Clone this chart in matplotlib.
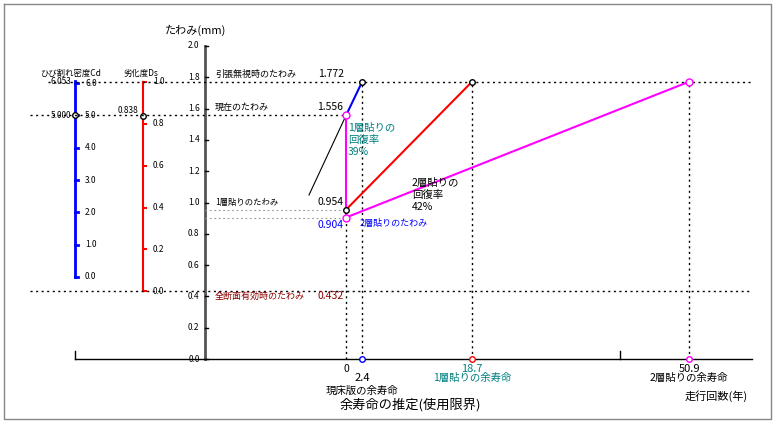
import matplotlib.pyplot as plt

plt.rcParams['font.family'] = ['Noto Sans CJK JP', 'DejaVu Sans']

# deflection values (mm)
d_tension = 1.772
d_now = 1.556
d_one = 0.954
d_two = 0.904
d_full = 0.432
# remaining life (years)
life_now = 2.4
life_one = 18.7
life_two = 50.9
cd_ticks = [0.0, 1.0, 2.0, 3.0, 4.0, 5.0, 6.0]
ds_ticks = [0.0, 0.2, 0.4, 0.6, 0.8, 1.0]
cd_now, cd_max = 5.0, 6.053
ds_now = 0.838
y_ticks = [0.0, 0.2, 0.4, 0.6, 0.8, 1.0, 1.2, 1.4, 1.6, 1.8, 2.0]

# pixel -> data helpers for layout
PX = 6.74
PY = 156.5
def xp(px): return (px - 346) / PX
def yp(py): return (359 - py) / PY

def cd2d(c): return 0.524 + c * (d_now - 0.524) / cd_now
def ds2d(s): return d_full + s * (d_tension - d_full)

fig = plt.figure(figsize=(7.76, 4.25), dpi=100)
ax = fig.add_axes([0, 0, 1, 1])
ax.set_xlim(xp(0), xp(776))
ax.set_ylim(yp(425), yp(0))
ax.axis('off')

# frame
ax.plot([xp(4), xp(771), xp(771), xp(4), xp(4)], [yp(4), yp(4), yp(419), yp(419), yp(4)], color='#888', lw=1)

x_axis = xp(205)
# main y axis
ax.plot([x_axis, x_axis], [0, 2.0], color='#555', lw=2)
for t in y_ticks:
    ax.plot([x_axis, x_axis + 0.5], [t, t], color='k', lw=1)
    ax.text(x_axis - 0.8, t, f'{t:.1f}', ha='right', va='center', fontsize=6)
ax.text(xp(165), yp(30), 'たわみ(mm)', fontsize=8, va='center')
# x axis
ax.plot([xp(75), xp(752)], [0, 0], color='k', lw=1)
for px in (75, 620):
    ax.plot([xp(px), xp(px)], [0, 0.05], color='k', lw=1)

# blue Cd scale
xb = xp(75)
ax.plot([xb, xb], [cd2d(0), cd2d(cd_max)], color='blue', lw=2)
for c in cd_ticks:
    ax.plot([xb, xb + 0.5], [cd2d(c), cd2d(c)], color='blue', lw=2)
    ax.text(xb + 1.5, cd2d(c), f'{c:.1f}', fontsize=6, va='center')
ax.text(xp(40), yp(73), 'ひび割れ密度Cd', fontsize=6, va='center')
ax.text(xb - 0.5, cd2d(cd_max), f'{cd_max:.3f}', fontsize=6, ha='right', va='center')
ax.text(xb - 0.5, cd2d(cd_now), f'{cd_now:.3f}', fontsize=6, ha='right', va='center')
ax.plot(xb, cd2d(cd_now), 'o', mfc='white', mec='k', ms=4)

# red Ds scale
xr = xp(143)
ax.plot([xr, xr], [ds2d(0), ds2d(1.0)], color='red', lw=1.5)
for s in ds_ticks:
    ax.plot([xr, xr + 0.5], [ds2d(s), ds2d(s)], color='red', lw=1.5)
    ax.text(xr + 1.5, ds2d(s), f'{s:.1f}', fontsize=6, va='center')
ax.text(xp(124), yp(73), '劣化度Ds', fontsize=6, va='center')
ax.text(xr - 0.7, ds2d(ds_now) + 0.03, f'{ds_now:.3f}', fontsize=6, ha='right', va='center')
ax.plot(xr, ds2d(ds_now), 'o', mfc='white', mec='k', ms=4)

dot = dict(color='k', lw=1, ls=(0, (1.5, 2.5)))
ax.plot([xp(48), xp(752)], [d_tension, d_tension], **dot)
ax.plot([xp(30), 0], [d_now, d_now], **dot)
ax.plot([x_axis, 0], [d_one, d_one], color='#999', lw=0.8, ls=(0, (1.5, 2.5)))
ax.plot([x_axis, 0], [d_two, d_two], color='#999', lw=0.8, ls=(0, (1.5, 2.5)))
ax.plot([xp(30), xp(752)], [d_full, d_full], **dot)
ax.plot([0, 0], [0, d_one], **dot)
for xv in (life_now, life_one, life_two):
    ax.plot([xv, xv], [0, d_tension], **dot)

# lines
ax.plot([0, life_now], [d_now, d_tension], color='blue', lw=1.5)
ax.plot([0, life_one], [d_one, d_tension], color='red', lw=1.5)
ax.plot([0, 0], [d_now, d_two], color='magenta', lw=1.5)
ax.plot([0, life_two], [d_two, d_tension], color='magenta', lw=1.5)
ax.plot([xp(309), 0], [yp(195), d_now], color='k', lw=0.8)

for xv, yv, c in [(life_now, d_tension, 'k'), (life_one, d_tension, 'k'), (life_two, d_tension, 'magenta'),
                  (0, d_now, 'magenta'), (0, d_one, 'k'), (0, d_two, 'magenta')]:
    ax.plot(xv, yv, 'o', mfc='white', mec=c, ms=5 if c == 'magenta' else 4)
ax.plot(life_now, 0, 'o', mfc='white', mec='blue', ms=4)
ax.plot(life_one, 0, 'o', mfc='white', mec='red', ms=4)
ax.plot(life_two, 0, 'o', mfc='white', mec='magenta', ms=4)

# labels
ax.text(x_axis + 1.5, d_tension + 0.02, '引張無視時のたわみ', fontsize=6.5, va='bottom')
ax.text(xp(318), d_tension + 0.02, f'{d_tension:.3f}', fontsize=7.5, va='bottom')
ax.text(x_axis + 1.5, d_now + 0.02, '現在のたわみ', fontsize=6.5, va='bottom')
ax.text(xp(317), d_now + 0.02, f'{d_now:.3f}', fontsize=7.5, va='bottom')
ax.text(x_axis + 1.5, d_one + 0.02, '1層貼りのたわみ', fontsize=6, va='bottom')
ax.text(xp(317), d_one + 0.02, f'{d_one:.3f}', fontsize=7.5, va='bottom')
ax.text(xp(318), d_two - 0.05, f'{d_two:.3f}', fontsize=7.5, va='center', color='blue')
ax.text(xp(360), d_two - 0.04, '2層貼りのたわみ', fontsize=6.5, va='center', color='blue')
ax.text(x_axis + 1.5, d_full, '全断面有効時のたわみ', fontsize=6.5, va='top', color='darkred')
ax.text(xp(318), d_full, f'{d_full:.3f}', fontsize=7.5, va='top', color='darkred')
ax.text(xp(348), yp(140), '1層貼りの\n回復率\n39%', fontsize=7.5, color='teal', va='center', linespacing=1.3)
ax.text(xp(412), yp(195), '2層貼りの\n回復率\n42%', fontsize=7.5, color='k', va='center', linespacing=1.3)

ax.text(0, -0.03, '0', fontsize=7.5, ha='center', va='top')
ax.text(life_now, -0.09, f'{life_now}', fontsize=8, ha='center', va='top')
ax.text(life_now, -0.17, '現床版の余寿命', fontsize=7.5, ha='center', va='top')
ax.text(life_one, -0.03, f'{life_one}', fontsize=8, ha='center', va='top', color='teal')
ax.text(life_one, -0.09, '1層貼りの余寿命', fontsize=7.5, ha='center', va='top', color='teal')
ax.text(life_two, -0.03, f'{life_two}', fontsize=8, ha='center', va='top')
ax.text(life_two, -0.09, '2層貼りの余寿命', fontsize=7.5, ha='center', va='top')
ax.text(xp(685), -0.2, '走行回数(年)', fontsize=8, va='top')
ax.text(xp(410), -0.25, '余寿命の推定(使用限界)', fontsize=9.5, ha='center', va='top')

fig.savefig('out.png', dpi=100)
